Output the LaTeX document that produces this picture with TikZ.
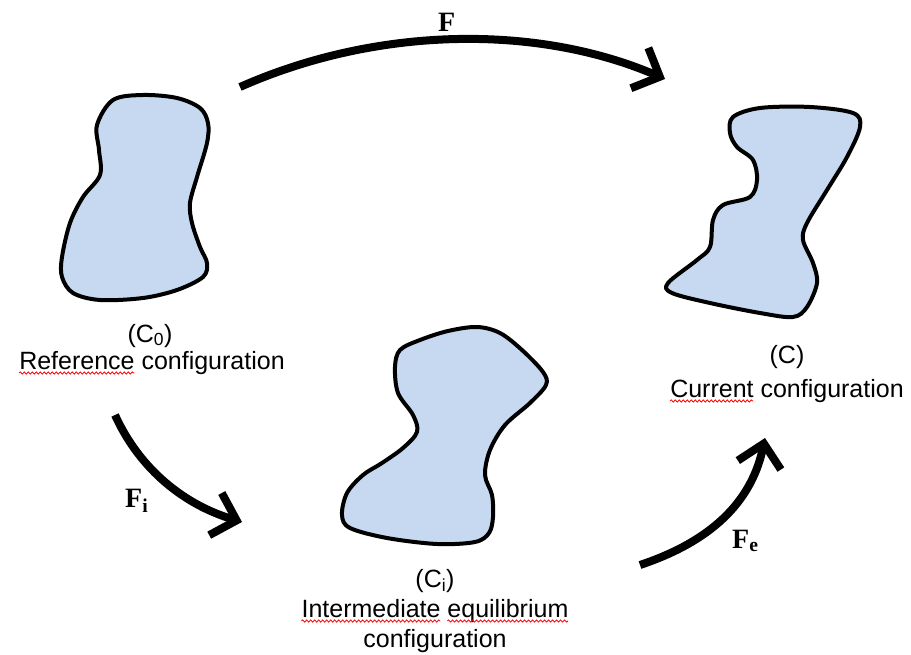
\documentclass[tikz,border=0pt]{standalone}
\usepackage{fontspec}
\setmainfont{Liberation Sans}
\newfontfamily\serifF{Liberation Serif}
\usetikzlibrary{arrows.meta,decorations.pathmorphing}
\definecolor{blobfill}{RGB}{198,217,241}
\newcommand\lblsize{\fontsize{25}{30}\selectfont}
\newlength\wRef
\newlength\wCur
\newlength\wInt
\newlength\wIntSp
\newlength\wEq
\begin{document}
\settowidth{\wRef}{\lblsize Reference}%
\settowidth{\wCur}{\lblsize Current}%
\settowidth{\wInt}{\lblsize Intermediate}%
\settowidth{\wIntSp}{\lblsize Intermediate\ }%
\settowidth{\wEq}{\lblsize equilibrium}%
\begin{tikzpicture}[x=1pt,y=-1pt,
  blob/.style={draw=black, line width=4pt, fill=blobfill, line join=round},
  bigarrow/.style={line width=8pt, line cap=butt, -{Straight Barb[length=22pt,width=44pt]}},
  lbl/.style={font=\lblsize, inner sep=0pt, anchor=base},
  flabel/.style={font=\serifF\bfseries\fontsize{28}{32}\selectfont, inner sep=0pt, anchor=base west},
  wavy/.style={draw=red, line width=0.8pt, decorate, decoration={snake, amplitude=1.1pt, segment length=4pt}}]
\useasboundingbox (0,0) rectangle (911,655);
% blobs
\draw[blob] plot[smooth cycle, tension=0.55] coordinates {
 (143,95) (177,98) (200,108) (208,123) (207,143) (197,177) (190,203) (192,223)
 (200,247) (207,263) (203,277) (177,290) (143,298) (100,300) (73,293) (62,277)
 (62,257) (70,223) (83,197) (100,175) (99,150) (97,125) (113,100)};
\draw[blob] plot[smooth cycle, tension=0.55] coordinates {
 (477,327) (500,333) (522,350) (543,372) (546,385) (530,403) (505,425) (490,450)
 (485,475) (492,495) (493,517) (489,533) (475,542) (437,544) (387,538) (350,528)
 (342,515) (347,493) (363,475) (382,463) (403,448) (417,432) (413,415) (398,393)
 (395,367) (400,350) (420,340) (448,331)};
\draw[blob] plot[smooth cycle, tension=0.55] coordinates {
 (760,108) (810,107) (853,113) (860,127) (847,157) (827,190) (807,223) (803,240)
 (813,263) (817,283) (807,307) (793,317) (760,313) (710,303) (672,293) (668,283)
 (697,260) (710,247) (713,220) (723,205) (750,197) (757,180) (753,160) (737,147)
 (730,133) (733,117)};
% arrows
\coordinate (Fs) at (240,87);
\coordinate (Ft) at (665,79);
\coordinate (Fis) at (115,415);
\coordinate (Fit) at (242,522);
\coordinate (Fes) at (640,565);
\coordinate (Fet) at (765,438);
\draw[bigarrow] (Fs) .. controls (380,25) and (540,25) .. (Ft);
\draw[bigarrow] (Fis) .. controls (140,470) and (185,505) .. (Fit);
\draw[bigarrow] (Fes) .. controls (700,545) and (750,510) .. (Fet);
\node[flabel] (F) at (438,32) {F};
\node[flabel] (Fi) at (125,507) {F\textsubscript{i}};
\node[flabel] (Fe) at (732,548) {F\textsubscript{e}};
% labels
\node[lbl] (C0) at (150,342) {(C\textsubscript{0})};
\node[lbl] (ref) at (152,369) {Reference configuration};
\node[lbl] (Ci) at (435,587) {(C\textsubscript{i})};
\node[lbl] (int) at (435,617) {Intermediate equilibrium};
\node[lbl] (int2) at (435,647) {configuration};
\node[lbl] (C) at (787,363) {(C)};
\node[lbl] (cur) at (787,397) {Current configuration};
% spelling underlines
\draw[wavy] ([yshift=-4pt]ref.base west) -- ([yshift=-4pt,xshift=\wRef]ref.base west);
\draw[wavy] ([yshift=-4pt]cur.base west) -- ([yshift=-4pt,xshift=\wCur]cur.base west);
\draw[wavy] ([yshift=-4pt]int.base west) -- ([yshift=-4pt,xshift=\wInt]int.base west);
\draw[wavy] ([yshift=-4pt,xshift=\wIntSp]int.base west) -- ([yshift=-4pt,xshift=\wIntSp+\wEq]int.base west);
\end{tikzpicture}
\end{document}
